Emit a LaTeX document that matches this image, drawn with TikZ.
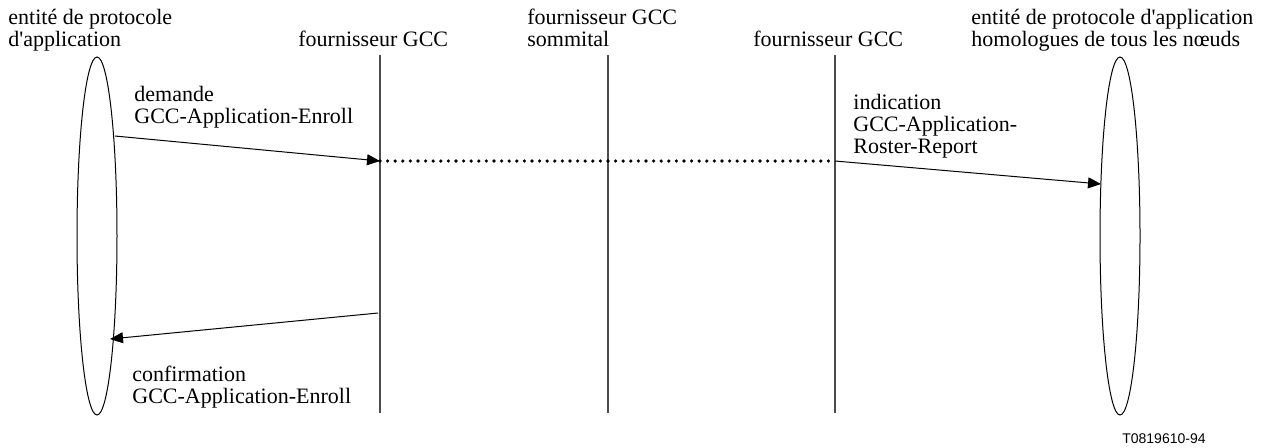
\documentclass[tikz,border=0pt]{standalone}
\usepackage{fontspec}
\setmainfont{Liberation Serif}
\setsansfont{Liberation Sans}
\usetikzlibrary{arrows.meta}
\newcommand{\apos}{\textquotesingle}
\begin{document}
\begin{tikzpicture}[x=0.5pt,y=-0.5pt,
  lbl/.style={inner sep=0pt,anchor=base west,align=left,font=\fontsize{11}{11}\selectfont},
  lifeline/.style={draw=black!70,line width=0.6pt},
  entity/.style={draw,line width=0.5pt},
  msg/.style={draw,line width=0.5pt,-{Triangle[length=6.5pt,width=5.5pt]}},
  relay/.style={draw,line width=1.8pt,dash pattern=on 0pt off 3.8pt,line cap=round}]
\useasboundingbox (0,0) rectangle (1278,447);

% participants (node positions give the baseline of the last line)
\node[lbl] (tA) at (8,46) {entité de protocole\\d\apos application};
\node[lbl] (tB) at (298,46) {fournisseur GCC};
\node[lbl] (tC) at (527,46) {fournisseur GCC\\sommital};
\node[lbl] (tD) at (753,46) {fournisseur GCC};
\node[lbl] (tE) at (971,46) {entité de protocole d\apos application\\homologues de tous les nœuds};

% application entities (ellipses)
\draw[entity] (97,236) ellipse [x radius=20,y radius=179];
\draw[entity] (1120,236) ellipse [x radius=20,y radius=179];
\coordinate (eLin)  at (115,136);
\coordinate (eLout) at (110,339);
\coordinate (eRin)  at (1101,184);

% lifelines
\coordinate (b1) at (380,55);  \coordinate (b1e) at (380,413);
\coordinate (b2) at (608,55);  \coordinate (b2e) at (608,413);
\coordinate (b3) at (835,55);  \coordinate (b3e) at (835,413);
\draw[lifeline] (b1) -- (b1e);
\draw[lifeline] (b2) -- (b2e);
\draw[lifeline] (b3) -- (b3e);

\coordinate (r1) at (380,161);
\coordinate (r3) at (835,161);
\coordinate (c1) at (378,313);

% messages
\draw[msg] (eLin) -- (r1);
\draw[relay] (r1) -- (r3);
\draw[msg] (r3) -- (eRin);
\draw[msg] (c1) -- (eLout);

\node[lbl] (mReq) at (134,123) {demande\\GCC-Application-Enroll};
\node[lbl] (mInd) at (853,153) {indication\\GCC-Application-\\Roster-Report};
\node[lbl] (mCnf) at (132,403) {confirmation\\GCC-Application-Enroll};

\node[inner sep=0pt,anchor=base east,font=\sffamily\fontsize{7}{7}\selectfont] (ref) at (1206,443) {T0819610-94};
\end{tikzpicture}
\end{document}
